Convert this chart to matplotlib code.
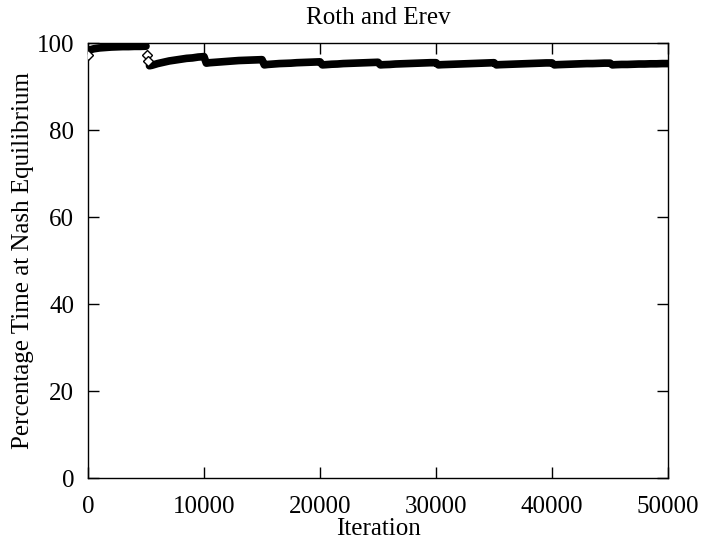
import matplotlib
matplotlib.use("Agg")
import matplotlib.pyplot as plt

title = "Roth and Erev"
xlabel = "Iteration"
ylabel = "Percentage Time at Nash Equilibrium"
xticks = [0, 10000, 20000, 30000, 40000, 50000]
yticks = [0, 20, 40, 60, 80, 100]

iterations = [
    0, 100, 500, 1000, 1500, 2000, 2500, 3000, 3500, 4000, 4500, 5000,
    5100, 5200, 5300, 5500, 6000, 6500, 7000, 7500, 8000, 8500, 9000, 9500, 10000,
    10200, 10500, 11000, 11500, 12000, 12500, 13000, 13500, 14000, 14500, 15000,
    15200, 15500, 16000, 16500, 17000, 17500, 18000, 18500, 19000, 19500, 20000,
    20200, 20500, 21000, 21500, 22000, 22500, 23000, 23500, 24000, 24500, 25000,
    25200, 25500, 26000, 26500, 27000, 27500, 28000, 28500, 29000, 29500, 30000,
    30200, 30500, 31000, 31500, 32000, 32500, 33000, 33500, 34000, 34500, 35000,
    35200, 35500, 36000, 36500, 37000, 37500, 38000, 38500, 39000, 39500, 40000,
    40200, 40500, 41000, 41500, 42000, 42500, 43000, 43500, 44000, 44500, 45000,
    45200, 45500, 46000, 46500, 47000, 47500, 48000, 48500, 49000, 49500, 50000,
]
percent_nash = [
    97.2, 98.4, 98.7, 98.9, 99.0, 99.1, 99.15, 99.2, 99.2, 99.25, 99.25, 99.3,
    97.3, 95.9, 94.8, 94.9, 95.3, 95.6, 95.9, 96.1, 96.3, 96.5, 96.6, 96.8, 96.9,
    95.4, 95.5, 95.6, 95.7, 95.8, 95.9, 96.0, 96.05, 96.1, 96.15, 96.2,
    95.0, 95.1, 95.2, 95.3, 95.35, 95.4, 95.5, 95.55, 95.6, 95.65, 95.7,
    95.0, 95.05, 95.15, 95.2, 95.3, 95.35, 95.4, 95.45, 95.5, 95.55, 95.6,
    95.0, 95.05, 95.1, 95.2, 95.25, 95.3, 95.35, 95.4, 95.45, 95.5, 95.5,
    95.0, 95.05, 95.1, 95.15, 95.2, 95.25, 95.3, 95.35, 95.4, 95.45, 95.5,
    95.0, 95.05, 95.1, 95.15, 95.2, 95.25, 95.3, 95.35, 95.4, 95.45, 95.45,
    95.0, 95.05, 95.1, 95.15, 95.2, 95.25, 95.3, 95.3, 95.35, 95.4, 95.4,
    95.0, 95.05, 95.1, 95.1, 95.15, 95.2, 95.2, 95.25, 95.25, 95.3, 95.3,
]

plt.rcParams['font.family'] = ['Liberation Serif', 'DejaVu Serif']
plt.rcParams['font.size'] = 18

fig = plt.figure(figsize=(7.01, 5.46), dpi=100)
ax = fig.add_axes([0.1255, 0.1245, 0.8275, 0.7965])

ax.plot(iterations[1:12], percent_nash[1:12], color='black', lw=5.5,
        solid_capstyle='round', solid_joinstyle='round', zorder=2)
ax.plot(iterations[14:], percent_nash[14:], color='black', lw=5.5,
        solid_capstyle='round', solid_joinstyle='round', zorder=2)
# open diamonds at the start and at the first transition
ax.plot(iterations[0:1] + iterations[12:14], percent_nash[0:1] + percent_nash[12:14],
        linestyle='none', marker='D', markersize=5, markerfacecolor='white',
        markeredgecolor='black', markeredgewidth=1, zorder=3)

ax.set_xlim(0, 50000)
ax.set_ylim(0, 100)
ax.set_xticks(xticks)
ax.set_yticks(yticks)
ax.tick_params(direction='in', length=8, width=1, top=True, right=True)
ax.tick_params(axis='x', pad=13)
ax.tick_params(axis='y', pad=10)
for s in ax.spines.values():
    s.set_linewidth(1)
ax.set_title(title, fontsize=18, pad=14)
ax.set_xlabel(xlabel, labelpad=0)
ax.set_ylabel(ylabel, labelpad=2)

fig.savefig("out.png", dpi=100)
